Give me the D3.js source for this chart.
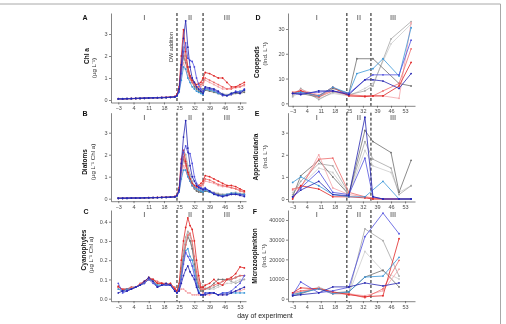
<!DOCTYPE html>
<html>
<head>
<meta charset="utf-8">
<script src="https://cdn.jsdelivr.net/npm/d3@7"></script>
<style>
  body { margin: 0; background: #fff; }
  svg { will-change: transform; opacity: 0.999; }
  text { font-family: "Liberation Sans", Arial, sans-serif; }
</style>
</head>
<body>
<svg id="fig" width="506" height="324"></svg>
<script>
// sampling days
const phytoDays = [-3,-1,1,3,5,7,9,11,13,15,17,19,21,23,
                   24,25,26,27,28,29,30,31,32,33,34,35,36,
                   37,39,41,43,45,47,49,51,53,55];
const zooDays = [-3, 1, 10, 17, 25, 29, 33, 37, 42, 46, 50, 56];
const microDays = [-3, 1, 10, 17, 25, 33, 42, 50];

const xTicks = [-3, 4, 11, 18, 25, 32, 39, 46, 53];
const phaseLabels = ["I", "II", "III"];
const phaseDays = [9, 30, 47];
const dwDays = [24, 36];

// mesocosms (draw order: greys, reds, blues)
const mesoNames = ["lightgray", "gray", "darkgray", "pink", "lightred", "red", "lightblue", "blue", "darkblue"];
const mesoColors = ["#cdcdcd", "#a6a6a6", "#6f6f6f", "#f4a3a8", "#ee6b6b", "#df2626", "#3b97d8", "#5151de", "#2424b0"];

// Chl a (ug/L), rows follow mesoNames
const chlA = [
  [0.06,0.05,0.06,0.06,0.07,0.07,0.08,0.09,0.1,0.1,0.11,0.11,0.12,0.14, 0.2,0.45,1.3,1.9,1.7,1.3,1.0,0.85,0.7,0.6,0.5,0.45,0.4, 0.55,0.5,0.45,0.35,0.3,0.25,0.3,0.35,0.4,0.45],
  [0.05,0.06,0.06,0.07,0.07,0.08,0.09,0.09,0.1,0.11,0.11,0.12,0.13,0.14, 0.2,0.5,1.6,2.4,2.0,1.5,1.1,0.9,0.7,0.55,0.45,0.4,0.35, 0.5,0.45,0.4,0.3,0.2,0.2,0.3,0.35,0.35,0.4],
  [0.05,0.05,0.06,0.06,0.07,0.08,0.08,0.09,0.1,0.1,0.1,0.11,0.12,0.13, 0.2,0.45,1.4,2.0,1.7,1.3,1.0,0.8,0.6,0.5,0.4,0.35,0.3, 0.45,0.4,0.35,0.3,0.25,0.2,0.25,0.3,0.3,0.35],
  [0.05,0.05,0.06,0.06,0.06,0.07,0.08,0.09,0.09,0.1,0.11,0.11,0.12,0.14, 0.2,0.4,1.2,1.7,1.4,1.1,0.9,0.8,0.7,0.6,0.6,0.6,0.7, 0.9,0.8,0.7,0.6,0.5,0.5,0.55,0.55,0.6,0.65],
  [0.05,0.05,0.05,0.06,0.07,0.07,0.08,0.09,0.1,0.1,0.11,0.12,0.13,0.15, 0.2,0.5,1.5,2.2,1.8,1.3,1.0,0.8,0.7,0.6,0.6,0.7,0.8, 1.0,0.9,0.8,0.7,0.6,0.5,0.5,0.6,0.6,0.7],
  [0.06,0.05,0.06,0.07,0.07,0.08,0.09,0.09,0.1,0.11,0.12,0.12,0.14,0.16, 0.25,0.6,2.0,3.2,2.2,1.5,1.1,0.9,0.8,0.7,0.75,0.8,1.0, 1.25,1.2,1.1,1.0,1.0,0.8,0.6,0.6,0.7,0.8],
  [0.05,0.06,0.06,0.06,0.07,0.08,0.08,0.09,0.1,0.1,0.11,0.11,0.12,0.13, 0.18,0.35,0.9,1.5,1.4,1.0,0.8,0.6,0.5,0.4,0.35,0.3,0.25, 0.5,0.45,0.4,0.3,0.25,0.2,0.3,0.35,0.4,0.45],
  [0.06,0.05,0.06,0.07,0.07,0.08,0.09,0.1,0.1,0.11,0.12,0.12,0.13,0.15, 0.2,0.4,1.2,2.2,2.6,1.9,1.8,1.75,1.5,1.0,0.7,0.5,0.4, 0.55,0.5,0.45,0.35,0.2,0.2,0.25,0.4,0.35,0.5],
  [0.05,0.05,0.06,0.06,0.07,0.07,0.08,0.09,0.1,0.1,0.1,0.11,0.12,0.14, 0.2,0.5,1.6,2.8,3.6,2.4,1.5,1.0,0.8,0.6,0.5,0.4,0.3, 0.6,0.55,0.5,0.4,0.25,0.2,0.3,0.35,0.3,0.45]
];

// Diatoms (ug/L Chl a)
const diatoms = [
  [0.02,0.02,0.02,0.03,0.03,0.03,0.04,0.04,0.05,0.05,0.06,0.06,0.07,0.08, 0.15,0.35,1.2,1.9,1.8,1.4,1.0,0.75,0.55,0.45,0.4,0.35,0.35, 0.4,0.35,0.3,0.25,0.2,0.2,0.25,0.3,0.25,0.25],
  [0.02,0.02,0.03,0.03,0.03,0.04,0.04,0.04,0.05,0.05,0.06,0.06,0.07,0.09, 0.15,0.4,1.4,2.2,2.0,1.5,1.1,0.8,0.55,0.4,0.35,0.3,0.3, 0.35,0.3,0.25,0.2,0.2,0.2,0.25,0.25,0.2,0.2],
  [0.02,0.02,0.02,0.03,0.03,0.03,0.04,0.04,0.04,0.05,0.05,0.06,0.07,0.08, 0.15,0.35,1.2,1.8,1.6,1.2,0.9,0.6,0.45,0.35,0.3,0.3,0.3, 0.35,0.3,0.25,0.2,0.15,0.15,0.2,0.2,0.2,0.2],
  [0.02,0.02,0.02,0.03,0.03,0.03,0.04,0.04,0.05,0.05,0.05,0.06,0.07,0.08, 0.12,0.3,1.0,1.5,1.3,1.0,0.8,0.6,0.5,0.45,0.5,0.55,0.6, 0.8,0.75,0.7,0.6,0.55,0.55,0.5,0.45,0.4,0.3],
  [0.02,0.02,0.03,0.03,0.03,0.04,0.04,0.05,0.05,0.05,0.06,0.06,0.07,0.09, 0.15,0.4,1.4,1.9,1.5,1.1,0.8,0.6,0.5,0.5,0.55,0.6,0.7, 0.9,0.85,0.75,0.65,0.6,0.55,0.5,0.45,0.35,0.3],
  [0.02,0.02,0.03,0.03,0.04,0.04,0.04,0.05,0.05,0.06,0.06,0.07,0.08,0.1, 0.15,0.5,1.8,2.2,1.7,1.2,0.9,0.7,0.6,0.55,0.6,0.7,0.8, 1.05,1.0,0.9,0.8,0.7,0.6,0.6,0.55,0.45,0.35],
  [0.02,0.02,0.02,0.03,0.03,0.03,0.04,0.04,0.05,0.05,0.05,0.06,0.07,0.08, 0.12,0.3,0.9,1.3,1.3,1.0,0.8,0.6,0.5,0.45,0.4,0.35,0.3, 0.4,0.3,0.2,0.15,0.15,0.2,0.25,0.25,0.2,0.2],
  [0.02,0.02,0.03,0.03,0.03,0.04,0.04,0.05,0.05,0.05,0.06,0.06,0.07,0.09, 0.15,0.35,1.3,2.1,2.4,2.1,2.05,1.6,1.0,0.7,0.55,0.5,0.45, 0.5,0.35,0.25,0.15,0.1,0.15,0.2,0.2,0.2,0.15],
  [0.02,0.02,0.02,0.03,0.03,0.03,0.04,0.04,0.05,0.05,0.06,0.06,0.07,0.08, 0.15,0.4,1.6,2.8,3.55,2.3,1.5,1.0,0.8,0.6,0.5,0.45,0.4, 0.45,0.35,0.2,0.15,0.1,0.15,0.2,0.2,0.15,0.1]
];

// Cyanophytes (ug/L Chl a)
const cyano = [
  [0.06,0.05,0.05,0.05,0.06,0.07,0.08,0.1,0.09,0.08,0.08,0.08,0.07,0.05, 0.04,0.06,0.14,0.22,0.3,0.34,0.3,0.26,0.2,0.15,0.1,0.08,0.07, 0.06,0.05,0.05,0.06,0.07,0.08,0.08,0.09,0.1,0.1],
  [0.05,0.04,0.05,0.05,0.06,0.07,0.08,0.11,0.09,0.07,0.08,0.07,0.08,0.05, 0.04,0.07,0.16,0.25,0.32,0.35,0.33,0.28,0.2,0.12,0.07,0.05,0.05, 0.05,0.05,0.06,0.07,0.09,0.1,0.09,0.08,0.09,0.1],
  [0.06,0.05,0.05,0.06,0.06,0.07,0.09,0.1,0.1,0.08,0.08,0.07,0.07,0.05, 0.04,0.06,0.14,0.22,0.28,0.32,0.3,0.26,0.18,0.1,0.06,0.04,0.04, 0.05,0.06,0.08,0.1,0.1,0.1,0.1,0.11,0.12,0.12],
  [0.06,0.05,0.05,0.05,0.06,0.07,0.08,0.1,0.09,0.08,0.08,0.07,0.07,0.05, 0.04,0.04,0.05,0.05,0.04,0.03,0.03,0.02,0.02,0.02,0.02,0.02,0.03, 0.02,0.02,0.03,0.02,0.02,0.03,0.03,0.04,0.04,0.05],
  [0.06,0.05,0.05,0.06,0.06,0.08,0.09,0.1,0.1,0.09,0.08,0.08,0.07,0.06, 0.04,0.05,0.12,0.2,0.28,0.33,0.34,0.3,0.22,0.14,0.08,0.05,0.05, 0.05,0.06,0.07,0.08,0.09,0.1,0.1,0.11,0.12,0.12],
  [0.065,0.045,0.05,0.05,0.06,0.07,0.09,0.11,0.1,0.08,0.08,0.07,0.08,0.05, 0.04,0.08,0.2,0.3,0.37,0.42,0.38,0.36,0.3,0.2,0.12,0.06,0.06, 0.07,0.08,0.1,0.08,0.07,0.1,0.11,0.13,0.165,0.16],
  [0.05,0.04,0.05,0.05,0.06,0.07,0.08,0.1,0.09,0.07,0.07,0.07,0.07,0.04, 0.03,0.05,0.12,0.2,0.25,0.26,0.22,0.2,0.15,0.08,0.04,0.02,0.02, 0.03,0.03,0.03,0.02,0.03,0.03,0.03,0.03,0.03,0.03],
  [0.08,0.03,0.04,0.05,0.06,0.07,0.08,0.1,0.08,0.06,0.07,0.07,0.07,0.04, 0.03,0.05,0.1,0.18,0.24,0.22,0.2,0.17,0.12,0.07,0.03,0.02,0.02, 0.03,0.03,0.03,0.02,0.03,0.03,0.04,0.06,0.08,0.12],
  [0.03,0.04,0.04,0.05,0.06,0.07,0.09,0.11,0.09,0.06,0.07,0.08,0.07,0.04, 0.03,0.04,0.08,0.12,0.15,0.17,0.14,0.12,0.1,0.06,0.03,0.02,0.02, 0.02,0.03,0.03,0.02,0.02,0.02,0.03,0.04,0.05,0.06]
];

// Copepods (Ind./L), null = not sampled
const copepods = [
  [2.5, 5, 2, 4, 3, null, 6, 8, null, 24, null, 32],
  [3, 6, 1.5, 4.5, 3.5, null, 5, 7, null, 26, null, 33],
  [4, 4, 2.5, 6, 4, 18, null, 18, null, null, 8, 7],
  [4, 5.5, 3.5, 5, 3, null, 3, 3, 3, null, 2, 32.5],
  [4.5, 5, 2.5, 5, 3.5, null, 3, 3, 5, null, 8, 22],
  [4, 5, 3, 6.5, 3, null, 2.7, 3, 3, null, 7, 16.5],
  [4, 4.5, 3, 6.5, 4, 12, null, 14, 18, null, 11, 30.5],
  [4, 4, 4.5, 5, 4, null, 9.5, 11.5, 11.5, null, 11.5, 25.5],
  [4, 3.5, 5, 5, 3.5, null, 9.5, 9.5, 9, null, 6, 12]
];

// Appendicularia (Ind./L)
const appendicularia = [
  [0.3, 0.6, 1.4, 1.2, 0.2, null, 2.2, 1.5, null, 1.2, 0.3, 0.6],
  [0.2, 0.8, 1.6, 1.5, 0.25, null, 2.6, 1.8, null, 1.4, 0.2, 0.6],
  [0.1, 1.05, 1.75, 1.0, 0.2, null, 3.1, 2.6, null, 2.1, 0.3, 1.75],
  [0.4, 0.5, 2.0, 0.5, 0.2, null, 0.1, 0, 0, null, 0, 0],
  [0.45, 0.55, 1.8, 1.85, 0.3, null, 0.1, 0.05, 0, null, 0, 0],
  [0, 0.6, 0.45, 0.1, 0.1, null, 0.05, 0, 0, null, 0, 0],
  [0.75, 1.0, 0.6, 0.2, 0.1, null, 0.1, null, 0.8, null, 0, 0],
  [0.1, 0.5, 1.25, 0.3, 0.2, null, 1.85, 0.1, 0, null, 0, 0],
  [0.1, 0.4, 0.8, 0.2, 0.15, null, 3.7, 0.1, 0, null, 0, 0]
];

// Microzooplankton (Ind./L)
const microzoo = [
  [2500, 3000, 6000, 3000, 2500, 24000, 14000, 10000],
  [2500, 3000, 5500, 3000, 3000, 35500, 29500, 11500],
  [1500, 2500, 5500, 3000, 3500, 11000, 14500, 6000],
  [2500, 3500, 5500, 3000, 2500, 1500, 4000, 15000],
  [3000, 4000, 5000, 2500, 2500, 500, 5000, 19500],
  [3000, 5500, 5000, 3500, 2000, 1000, 1500, 30500],
  [2000, 3000, 5000, 2500, 3500, 11000, 11500, 21000],
  [2000, 8500, 3000, 4000, 5800, 31500, 43500, 33000],
  [1500, 2000, 3000, 6000, 6000, 8000, 6500, 8000]
];

var svg = d3.select("#fig");

document.addEventListener('DOMContentLoaded', function () {
  drawFrame();

  var leftX = d3.scaleLinear().domain([-6.36, 55.76]).range([111, 246]);
  var rightX = d3.scaleLinear().domain([-5.33, 57.95]).range([288, 415]);

  drawPanel({letter: "A", x: leftX, y0: 13, y1: 102.5, dom: [-0.114, 3.955], ticks: [0,1,2,3], fmt: d3.format("d"),
             days: phytoDays, data: chlA, title: "Chl a", unit: "(\u00b5g L\u207b\u00b9)",
             titlePos: [86.5, 56], unitPos: [93, 68], letterPos: [85, 17], showX: false, dw: true});
  drawPanel({letter: "B", x: leftX, y0: 112.7, y1: 201.2, dom: [-0.114, 3.91], ticks: [0,1,2,3], fmt: d3.format("d"),
             days: phytoDays, data: diatoms, title: "Diatoms", unit: "(\u00b5g L\u207b\u00b9 Chl a)",
             titlePos: [84.5, 162], unitPos: [92, 162], letterPos: [85, 113], showX: false});
  drawPanel({letter: "C", x: leftX, y0: 210, y1: 301.2, dom: [-0.013, 0.4608], ticks: [0,0.1,0.2,0.3,0.4], fmt: d3.format(".1f"),
             days: phytoDays, data: cyano, title: "Cyanophytes", unit: "(\u00b5g L\u207b\u00b9 Chl a)",
             titlePos: [83.5, 250], unitPos: [90.5, 255], letterPos: [86, 211], showX: true});
  drawPanel({letter: "D", x: rightX, y0: 13, y1: 105.8, dom: [-1.0, 36.46], ticks: [0,10,20,30], fmt: d3.format("d"),
             days: zooDays, data: copepods, title: "Copepods", unit: "(Ind. L\u207b\u00b9)",
             titlePos: [256, 62], unitPos: [264.5, 54], letterPos: [258, 17], showX: false});
  drawPanel({letter: "E", x: rightX, y0: 112.7, y1: 201.5, dom: [-0.113, 3.905], ticks: [0,1,2,3], fmt: d3.format("d"),
             days: zooDays, data: appendicularia, title: "Appendicularia", unit: "(Ind. L\u207b\u00b9)",
             titlePos: [255, 157], unitPos: [264, 157], letterPos: [257, 113], showX: false});
  drawPanel({letter: "F", x: rightX, y0: 210, y1: 301.2, dom: [-1270, 45070], ticks: [0,10000,20000,30000,40000], fmt: d3.format("d"),
             days: microDays, data: microzoo, title: "Microzooplankton", unit: "(Ind. L\u207b\u00b9)",
             titlePos: [254.5, 256], unitPos: [263.5, 256], letterPos: [255, 211], showX: true});

  svg.append("text")
    .attr("x", 265).attr("y", 315)
    .attr("text-anchor", "middle").attr("dominant-baseline", "central")
    .style("font-size", "7px").style("fill", "#222")
    .text("day of experiment");
});

function drawFrame() {
  svg.append("line").attr("x1", 0).attr("x2", 500.5).attr("y1", 4).attr("y2", 4)
    .style("stroke", "#a8a8a8").style("stroke-width", 1);
  svg.append("line").attr("x1", 500.5).attr("x2", 500.5).attr("y1", 4).attr("y2", 324)
    .style("stroke", "#a8a8a8").style("stroke-width", 1);
}

function drawPanel(p) {
  var x = p.x;
  var y = d3.scaleLinear().domain(p.dom).range([p.y1, p.y0]);
  var g = svg.append("g");

  // y axis
  var yAxis = g.append("g")
    .attr("transform", "translate(" + x.range()[0] + ",0)")
    .call(d3.axisLeft(y).tickValues(p.ticks).tickFormat(p.fmt).tickSize(2).tickPadding(1.5).tickSizeOuter(0));
  // x axis
  var xAxis = g.append("g")
    .attr("transform", "translate(0," + p.y1 + ")")
    .call(d3.axisBottom(x).tickValues(xTicks).tickSize(2).tickPadding(1.5).tickSizeOuter(0)
      .tickFormat(p.showX ? d3.format("d") : ""));
  [yAxis, xAxis].forEach(function (a) {
    a.select(".domain").style("stroke", "#333").style("stroke-width", 0.6);
    a.selectAll(".tick line").style("stroke", "#333").style("stroke-width", 0.6);
    a.selectAll(".tick text").style("font-size", "5.5px").style("fill", "#4d4d4d")
      .style("font-family", "'Liberation Sans', Arial, sans-serif");
  });
  xAxis.selectAll(".tick text").text(function (d) { return d < 0 ? "\u22123" : d; });

  // phase separators
  g.selectAll(".dw")
    .data(dwDays)
    .enter()
    .append("line")
    .attr("x1", d => x(d)).attr("x2", d => x(d))
    .attr("y1", p.y0).attr("y2", p.y1)
    .style("stroke", "#111").style("stroke-width", 1).style("stroke-dasharray", "3,2");

  g.selectAll(".phase")
    .data(phaseLabels)
    .enter()
    .append("text")
    .attr("x", (d, i) => x(phaseDays[i]))
    .attr("y", p.y0 + 4.5)
    .attr("text-anchor", "middle").attr("dominant-baseline", "central")
    .style("font-size", "7.5px").style("fill", "#444")
    .text(d => d);

  if (p.dw) {
    g.append("text")
      .attr("transform", "translate(" + (x(dwDays[0]) - 6) + "," + (p.y0 + 34) + ") rotate(-90)")
      .attr("text-anchor", "middle").attr("dominant-baseline", "central")
      .style("font-size", "5.5px").style("fill", "#333")
      .text("DW addition");
  }

  // panel letter and titles
  g.append("text").attr("x", p.letterPos[0]).attr("y", p.letterPos[1])
    .attr("text-anchor", "middle").attr("dominant-baseline", "central")
    .style("font-size", "7px").style("font-weight", "bold").style("fill", "#111")
    .text(p.letter);
  g.append("text")
    .attr("transform", "translate(" + p.titlePos[0] + "," + p.titlePos[1] + ") rotate(-90)")
    .attr("text-anchor", "middle").attr("dominant-baseline", "central")
    .style("font-size", "6.5px").style("font-weight", "bold").style("fill", "#111")
    .text(p.title);
  g.append("text")
    .attr("transform", "translate(" + p.unitPos[0] + "," + p.unitPos[1] + ") rotate(-90)")
    .attr("text-anchor", "middle").attr("dominant-baseline", "central")
    .style("font-size", "6.2px").style("fill", "#333")
    .text(p.unit);

  // series
  var line = d3.line().x(d => x(d.day)).y(d => y(d.v));
  p.data.forEach(function (row, i) {
    var pts = row.map((v, j) => ({day: p.days[j], v: v})).filter(d => d.v !== null);
    var s = g.append("g").attr("class", mesoNames[i]);
    s.append("path")
      .attr("d", line(pts))
      .style("fill", "none")
      .style("stroke", mesoColors[i])
      .style("stroke-width", 0.8);
    s.selectAll("circle")
      .data(pts)
      .enter()
      .append("circle")
      .attr("cx", d => x(d.day))
      .attr("cy", d => y(d.v))
      .attr("r", 0.9)
      .style("fill", mesoColors[i]);
  });
}
</script>
</body>
</html>
